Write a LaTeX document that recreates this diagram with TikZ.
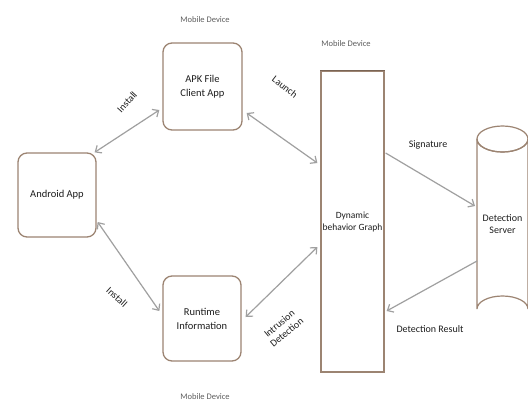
\documentclass[tikz,border=0pt]{standalone}
\usepackage{fontspec}
\setmainfont{Carlito}
\usetikzlibrary{arrows.meta,calc}
\definecolor{boxline}{HTML}{9C8472}
\definecolor{topline}{HTML}{7A6455}
\definecolor{arrowgray}{HTML}{A0A0A0}
\definecolor{txt}{HTML}{1E1E1E}
\definecolor{lbl}{HTML}{5E5E5E}
\begin{document}
\begin{tikzpicture}[x=1pt,y=-1pt,
  roundbox/.style={draw=boxline,line width=1.3pt,rounded corners=9pt,fill=white,
    align=center,font=\fontsize{10.5}{14}\selectfont,text=txt,inner sep=0pt},
  tallbox/.style={draw=boxline,line width=1.3pt,fill=white,inner sep=0pt},
  conn/.style={draw=arrowgray,line width=1.2pt},
  both/.style={conn,{Straight Barb[length=5pt,width=9pt]}-{Straight Barb[length=5pt,width=9pt]}},
  one/.style={conn,-{Straight Barb[length=5pt,width=9pt]}},
  device/.style={font=\fontsize{8.5}{10}\selectfont,text=lbl},
  elab/.style={font=\fontsize{10}{11.5}\selectfont,text=txt,align=center},
  inlab/.style={font=\fontsize{9.5}{12}\selectfont,text=txt,align=center}]
\useasboundingbox (0,0) rectangle (528,408);
\fill[white] (0,0) rectangle (528,408);

% boxes
\node[roundbox,minimum width=78pt,minimum height=84pt] (android) at (57,195) {Android App};
\node[roundbox,minimum width=79pt,minimum height=87pt] (apk) at (202.5,86.5) {APK File\\Client App};
\node[roundbox,minimum width=78pt,minimum height=85pt] (runtime) at (202,318.5) {Runtime\\Information};
\node[tallbox,minimum width=63pt,minimum height=301pt] (tall) at (352.5,221.5) {};
\draw[topline,line width=1.6pt] (tall.north west) -- (tall.north east);
\node[inlab] (tallText) at (352.5,222) {Dynamic\\behavior Graph};

% cylinder (server)
\draw[draw=boxline,line width=1.2pt,fill=white]
  (477,139) -- (477,309) arc[start angle=180,end angle=360,x radius=25.5,y radius=13]
  -- (528,139) arc[start angle=0,end angle=180,x radius=25.5,y radius=13] -- cycle;
\draw[draw=boxline,line width=1.2pt] (477,139) arc[start angle=180,end angle=-180,x radius=25.5,y radius=13];
\node[inlab,font=\fontsize{10}{12.5}\selectfont] (server) at (502.5,224) {Detection\\Server};
\coordinate (srvIn) at (475,206);
\coordinate (srvOut) at (477,261);

% device labels
\node[device] (dev1) at (205,20) {Mobile Device};
\node[device] (dev2) at (346,44) {Mobile Device};
\node[device] (dev3) at (205,397) {Mobile Device};

% connectors
\draw[both] ($(android.north east)+(-2,0)$) -- ($(apk.west)+(-3,23.5)$);
\draw[both] ($(android.east)+(1,27)$) -- ($(runtime.west)+(-3,-7.5)$);
\draw[both] ($(apk.east)+(4,26.5)$) -- ($(tall.west)+(-3,-58.5)$);
\draw[both] ($(runtime.east)+(4,-1.5)$) -- ($(tall.west)+(-3,25.5)$);
\draw[one] ($(tall.east)+(1,-68.5)$) -- (srvIn);
\draw[one] (srvOut) -- ($(tall.east)+(2,89.5)$);

% edge labels
\node[elab,rotate=48] (l1) at (127,102) {Install};
\node[elab,rotate=-38] (l2) at (285,87) {Launch};
\node[elab,rotate=-42] (l3) at (117,297) {Install};
\node[elab,rotate=40] (l4) at (283,328) {Intrusion\\Detection};
\node[elab] (l5) at (428,145) {Signature};
\node[elab] (l6) at (430,329) {Detection Result};
\end{tikzpicture}
\end{document}
